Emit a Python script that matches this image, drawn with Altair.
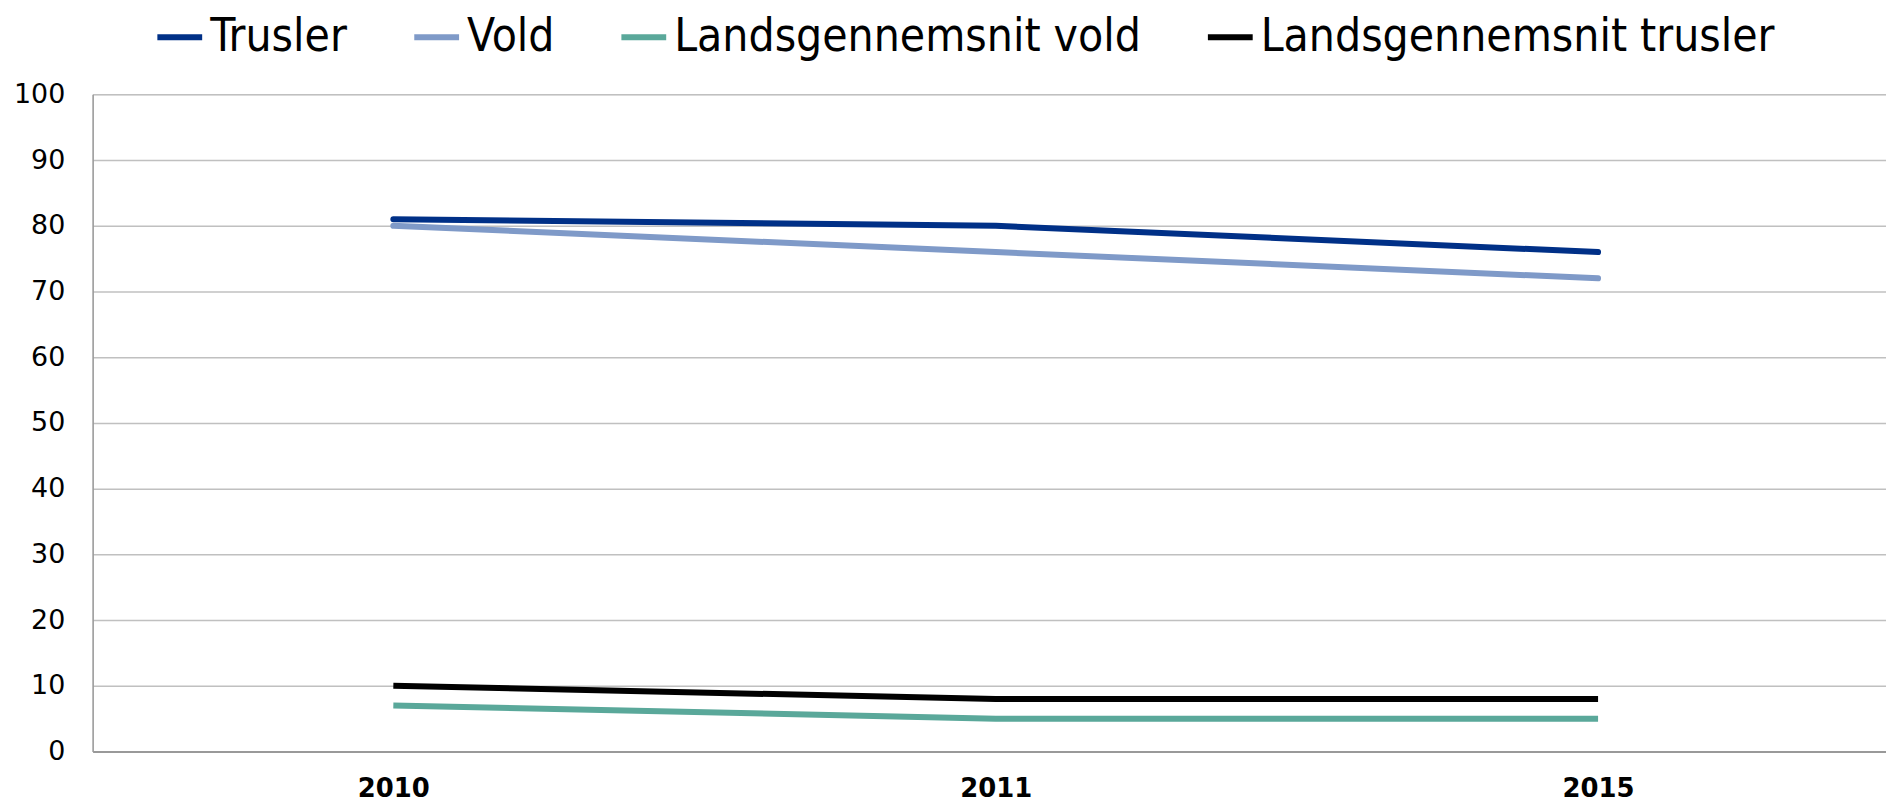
import altair as alt
import pandas as pd

years = ["2010", "2011", "2015"]
trusler = [81, 80, 76]
vold = [80, 76, 72]
lands_vold = [7, 5, 5]
lands_trusler = [10, 8, 8]

series_names = ["Trusler", "Vold", "Landsgennemsnit vold", "Landsgennemsnit trusler"]
series_colors = ["#003087", "#7f9ac8", "#5aa89a", "#000000"]
series_values = [trusler, vold, lands_vold, lands_trusler]

rows = []
for name, vals in zip(series_names, series_values):
    for i, (yr, v) in enumerate(zip(years, vals)):
        rows.append({"idx": i, "year": yr, "value": v, "series": name})
df = pd.DataFrame(rows)

year_label_expr = "[" + ",".join("'" + y + "'" for y in years) + "][datum.value]"

color = alt.Color(
    "series:N",
    scale=alt.Scale(domain=series_names, range=series_colors),
    sort=series_names,
    legend=alt.Legend(
        title=None,
        orient="none",
        legendX=62,
        legendY=-83,
        direction="horizontal",
        columns=4,
        columnPadding=55,
        symbolType="stroke",
        symbolSize=2025,
        symbolStrokeWidth=6,
        labelFont="DejaVu Sans Condensed",
        labelFontSize=46,
        labelColor="#000000",
        labelOffset=5,
        labelLimit=900,
        symbolOffset=0,
    ),
)

x = alt.X(
    "idx:Q",
    scale=alt.Scale(domain=[-0.4992, 2.478], nice=False, zero=False),
    axis=alt.Axis(
        title=None,
        values=[0, 1, 2],
        labelExpr=year_label_expr,
        labelAngle=0,
        labelFont="DejaVu Sans",
        labelFontSize=26,
        labelFontWeight="bold",
        labelColor="#000000",
        labelPadding=24,
        ticks=False,
        grid=False,
        domainColor="#888888",
        domainWidth=1.5,
    ),
)
y = alt.Y(
    "value:Q",
    scale=alt.Scale(domain=[0, 100], nice=False),
    axis=alt.Axis(
        title=None,
        values=list(range(0, 101, 10)),
        labelFont="DejaVu Sans",
        labelFontSize=27,
        labelColor="#000000",
        labelPadding=28,
        ticks=False,
        grid=True,
        gridColor="#c0c0c0",
        gridWidth=1.5,
        domainColor="#999999",
        domainWidth=1.5,
    ),
)

base = alt.Chart(df)
round_lines = base.transform_filter(
    alt.FieldOneOfPredicate(field="series", oneOf=["Trusler", "Vold"])
).mark_line(strokeWidth=6, strokeCap="round", strokeJoin="round").encode(
    x=x, y=y, color=color, order=alt.Order("idx:Q")
)
flat_lines = base.transform_filter(
    alt.FieldOneOfPredicate(field="series", oneOf=["Landsgennemsnit vold", "Landsgennemsnit trusler"])
).mark_line(strokeWidth=6, strokeCap="butt", strokeJoin="round").encode(
    x=x, y=y, color=color, order=alt.Order("idx:Q")
)

chart = alt.layer(round_lines, flat_lines).properties(
    width=1801,
    height=660,
    autosize=alt.AutoSizeParams(type="none"),
    padding={"left": 85, "top": 85, "right": 0, "bottom": 50},
).configure_view(stroke=None).configure(background="#ffffff")

chart.save("out.html", embed_options={"renderer": "svg", "actions": False})
